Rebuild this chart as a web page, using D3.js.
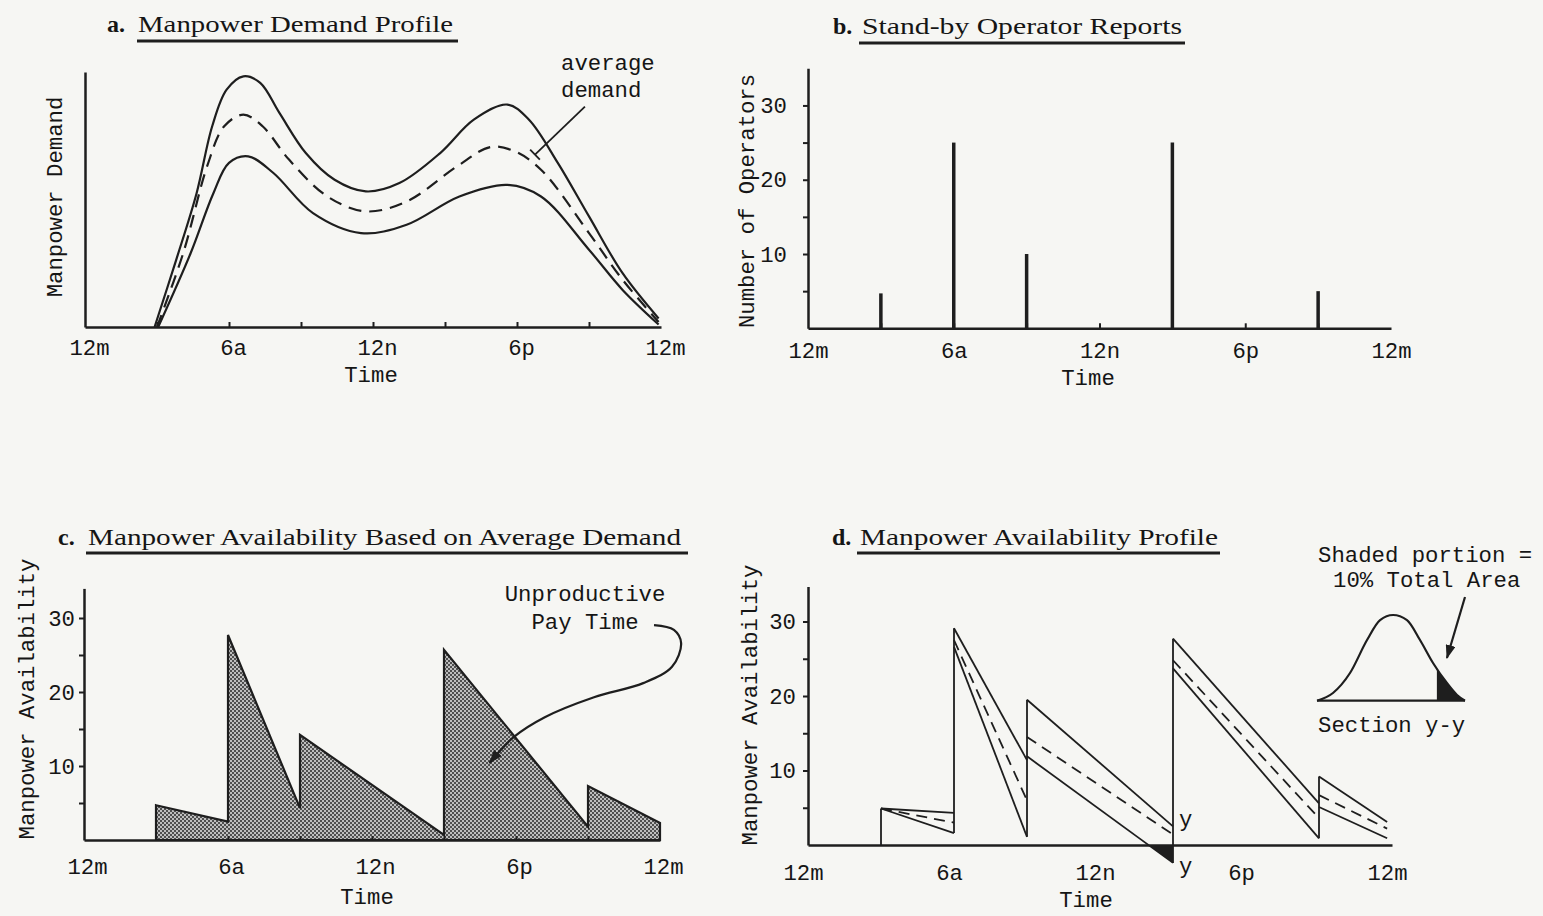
<!DOCTYPE html>
<html lang="en">
<head>
<meta charset="utf-8">
<title>Manpower demand and availability</title>
<script src="https://d3js.org/d3.v7.min.js"></script>
<style>
  body { margin: 0; background: #f6f6f3; }
  svg { display: block; }
  text { fill: #151515; font-family: "Liberation Mono", "DejaVu Sans Mono", monospace; font-size: 22.3px; }
  .title { font-family: "Liberation Serif", serif; font-size: 24px; }
  .letter { font-family: "Liberation Serif", serif; font-weight: bold; font-size: 24px; }
  .axis path { stroke: #1e1e1e; stroke-width: 2.5px; }
  .axis line { stroke: #1e1e1e; stroke-width: 2px; }
  .ink { fill: none; stroke: #1e1e1e; stroke-width: 2.2px; }
  .thin { fill: none; stroke: #1e1e1e; stroke-width: 1.8px; }
</style>
</head>
<body>
<script>
// time axis shared by all four panels (hours after midnight)
var hourTicks = [0, 3, 6, 9, 12, 15, 18, 21, 24];
var hourNames = ["12m", "", "6a", "", "12n", "", "6p", "", "12m"];
var countTicks = [5, 10, 15, 20, 25, 30];

// a. manpower demand profile (no units on the axis, 0-100 scale)
var highHours  = [2.9, 3.8, 4.65, 5.3, 5.9, 6.6, 7.3, 8.1, 9.2, 10.4, 11.7, 13.1, 14.8, 16.2, 17.6, 18.5, 19.7, 21.0, 22.4, 23.9];
var highDemand = [0, 26.6, 53, 79.5, 94, 99.3, 96.7, 84.8, 68.9, 58.3, 53.7, 57, 68.9, 82.1, 88.1, 82.1, 65, 43.8, 21.3, 3.4];
var avgHours   = [3.0, 4.1, 5.1, 5.8, 6.6, 7.4, 8.5, 10.1, 11.7, 13.4, 15.5, 16.9, 17.9, 19.0, 21.0, 22.4, 23.9];
var avgDemand  = [0, 29.5, 64, 79.5, 84.1, 79.5, 66.3, 51.7, 45.8, 49.7, 63.6, 71.3, 69.6, 62.3, 37.2, 18.7, 2];
var lowHours   = [3.05, 4.4, 5.35, 6.0, 6.8, 7.85, 9.5, 11.5, 13.4, 15.6, 17.6, 19.0, 21.0, 22.4, 23.9];
var lowDemand  = [0, 29.2, 53, 65, 67.6, 61, 45.1, 37.2, 40.5, 51.7, 56.3, 51.7, 30.6, 14.7, 1];

// b. stand-by operator reports
var reportHours  = [3, 6, 9, 15, 21];
var reportCounts = [4.7, 25, 10, 25, 5];

// c. availability based on average demand
var flatHours = [3, 6, 6, 9, 9, 15, 15, 21, 21, 24];
var flatStaff = [4.7, 2.5, 27.7, 4.3, 14.2, 0.7, 25.7, 1.8, 7.3, 2.3];

// d. availability profile, one entry per report
var toothStart = [3, 6, 9, 15, 21];
var toothEnd   = [6, 9, 15, 21, 23.8];
var highStart  = [4.9, 29.1, 19.5, 27.7, 9.2];
var highEnd    = [4.3, 11.4, 2.5, 5.6, 3.1];
var meanStart  = [4.9, 27.5, 14.5, 24.8, 6.7];
var meanEnd    = [3.0, 6.0, 1.4, 3.6, 2.2];
var lowStart   = [4.9, 26.6, 11.9, 23.7, 5.1];
var lowEnd     = [1.6, 1.1, -2.4, 0.9, 0.9];

// section y-y inset (position across section 0-100, height 0-100)
var bellPos    = [0, 10.8, 22.3, 33.8, 42.6, 51.4, 60.8, 69.6, 78.4, 87.8, 94.6, 100];
var bellHeight = [0, 9, 32.3, 70.8, 94.1, 100, 94.1, 70.8, 44, 20.6, 6.7, 0];
var tailFrom = 81;

var svg = d3.select("body").append("svg").attr("width", 1543).attr("height", 916);
svg.append("rect").attr("width", 1543).attr("height", 916).attr("fill", "#f6f6f3");

var defs = svg.append("defs");
var pat = defs.append("pattern").attr("id", "stipple")
	.attr("width", 4).attr("height", 4).attr("patternUnits", "userSpaceOnUse");
pat.append("rect").attr("width", 4).attr("height", 4).attr("fill", "#bebebe");
pat.append("circle").attr("cx", 1).attr("cy", 1).attr("r", 1).attr("fill", "#2a2a2a");
pat.append("circle").attr("cx", 3).attr("cy", 3).attr("r", 1).attr("fill", "#2a2a2a");

defs.append("marker").attr("id", "head")
	.attr("viewBox", "0 0 14 10").attr("refX", 13).attr("refY", 5)
	.attr("markerWidth", 14).attr("markerHeight", 10)
	.attr("markerUnits", "userSpaceOnUse").attr("orient", "auto")
	.append("path").attr("d", "M0,0L14,5L0,10z").attr("fill", "#1e1e1e");

var hourAxis = function(scale, size, pad) {
	return d3.axisBottom(scale).tickValues(hourTicks)
		.tickFormat(function(d, i) { return hourNames[i]; })
		.tickSizeInner(size).tickSizeOuter(0).tickPadding(pad);
};
var countAxis = function(scale, pad) {
	return d3.axisLeft(scale).tickValues(countTicks)
		.tickFormat(function(d) { return d % 10 === 0 ? d : ""; })
		.tickSizeInner(5).tickSizeOuter(0).tickPadding(pad);
};
var dropEnds = function(g) {
	g.selectAll(".tick line").filter(function(d) { return d === 0 || d === 24; }).remove();
};

var title = function(letter, name, lx, tx, base, len, u1, u2, uy) {
	svg.append("text").attr("class", "letter").attr("x", lx).attr("y", base).text(letter);
	svg.append("text").attr("class", "title").attr("x", tx).attr("y", base)
		.attr("textLength", len).attr("lengthAdjust", "spacingAndGlyphs").text(name);
	svg.append("line").attr("x1", u1).attr("x2", u2).attr("y1", uy).attr("y2", uy)
		.attr("stroke", "#1e1e1e").attr("stroke-width", 3);
};
var sideLabel = function(name, cx, cy) {
	svg.append("text").attr("transform", "translate(" + cx + "," + cy + ") rotate(-90)")
		.attr("text-anchor", "middle").attr("dominant-baseline", "central").text(name);
};
var timeLabel = function(cx, base) {
	svg.append("text").attr("x", cx).attr("y", base).attr("text-anchor", "middle").text("Time");
};

// ---------- a. Manpower Demand Profile ----------
var xA = d3.scaleLinear().domain([0, 24]).range([85, 661]);
var yA = d3.scaleLinear().domain([0, 101]).range([327, 72]);

svg.append("g").attr("class", "axis").attr("transform", "translate(0," + yA(0) + ")")
	.call(hourAxis(xA, -5, 12)).call(dropEnds)
	.selectAll("text").attr("dx", 4);
svg.append("g").attr("class", "axis").attr("transform", "translate(" + xA(0) + ",0)")
	.call(d3.axisLeft(yA).tickValues([]).tickSizeOuter(0));

var demandLine = function(hours, vals) {
	return d3.line()
		.x(function(d) { return xA(d); })
		.y(function(d, i) { return yA(vals[i]); })
		.curve(d3.curveCatmullRom.alpha(0.5))(hours);
};
svg.append("path").attr("class", "ink").attr("d", demandLine(highHours, highDemand));
svg.append("path").attr("class", "ink").attr("d", demandLine(lowHours, lowDemand));
svg.append("path").attr("class", "ink").attr("stroke-dasharray", "13,8")
	.attr("d", demandLine(avgHours, avgDemand));

// leader for "average demand"
var la = [xA(20.83), yA(87.3)], lb = [xA(18.75), yA(68.3)];
svg.append("line").attr("class", "thin").attr("x1", la[0]).attr("y1", la[1]).attr("x2", lb[0]).attr("y2", lb[1]);
var len = Math.hypot(la[0] - lb[0], la[1] - lb[1]);
var px = (la[1] - lb[1]) / len * 7, py = -(la[0] - lb[0]) / len * 7;
svg.append("line").attr("class", "thin").attr("stroke-width", 2.5)
	.attr("x1", lb[0] - px).attr("y1", lb[1] - py).attr("x2", lb[0] + px).attr("y2", lb[1] + py);
svg.append("text").attr("x", 561).attr("y", 70).text("average");
svg.append("text").attr("x", 561).attr("y", 97).text("demand");

title("a.", "Manpower Demand Profile", 107, 138, 32, 315, 137, 458, 41);
sideLabel("Manpower Demand", 56, 197);
timeLabel(371, 382);

// ---------- b. Stand-by Operator Reports ----------
var xB = d3.scaleLinear().domain([0, 24]).range([808, 1391]);
var yB = d3.scaleLinear().domain([0, 35]).range([328.3, 68.3]);

svg.append("g").attr("class", "axis").attr("transform", "translate(0," + yB(0) + ")")
	.call(hourAxis(xB, -5, 14)).call(dropEnds);
svg.append("g").attr("class", "axis").attr("transform", "translate(" + xB(0) + ",0)")
	.call(countAxis(yB, 16));

svg.selectAll(".spike").data(reportHours).enter().append("line")
	.attr("class", "spike")
	.attr("x1", function(d) { return xB(d); })
	.attr("x2", function(d) { return xB(d); })
	.attr("y1", yB(0))
	.attr("y2", function(d, i) { return yB(reportCounts[i]); })
	.attr("stroke", "#1e1e1e").attr("stroke-width", 3.5);

title("b.", "Stand-by Operator Reports", 833, 862, 34, 320, 859, 1185, 43);
sideLabel("Number of Operators", 748, 201);
timeLabel(1088, 385);

// ---------- c. Manpower Availability Based on Average Demand ----------
var xC = d3.scaleLinear().domain([0, 24]).range([84, 660]);
var yC = d3.scaleLinear().domain([0, 34]).range([840, 588.4]);

var flatArea = d3.area()
	.x(function(d) { return xC(d); })
	.y0(yC(0))
	.y1(function(d, i) { return yC(flatStaff[i]); })
	.curve(d3.curveLinear);
svg.append("path").attr("d", flatArea(flatHours))
	.attr("fill", "url(#stipple)").attr("stroke", "#1e1e1e").attr("stroke-width", 2.2);

svg.append("g").attr("class", "axis").attr("transform", "translate(0," + yC(0) + ")")
	.call(hourAxis(xC, -4, 18)).call(dropEnds)
	.selectAll("text").attr("dx", 3);
svg.append("g").attr("class", "axis").attr("transform", "translate(" + xC(0) + ",0)")
	.call(countAxis(yC, 4));

// curved pointer to the shaded area
var payHours = [23.75, 24.58, 24.88, 24.5, 23.3, 21.25, 19.2, 17.9, 16.9];
var payStaff = [29.05, 28.4, 26.6, 23.4, 21.2, 19.3, 16.6, 13.9, 10.4];
svg.append("path").attr("class", "ink").attr("stroke-width", 2.6)
	.attr("marker-end", "url(#head)")
	.attr("d", d3.line()
		.x(function(d) { return xC(d); })
		.y(function(d, i) { return yC(payStaff[i]); })
		.curve(d3.curveCatmullRom)(payHours));
svg.append("text").attr("x", 585).attr("y", 601).attr("text-anchor", "middle").text("Unproductive");
svg.append("text").attr("x", 585).attr("y", 629).attr("text-anchor", "middle").text("Pay Time");

title("c.", "Manpower Availability Based on Average Demand", 58, 88, 545, 593, 86, 688, 553);
sideLabel("Manpower Availability", 28, 699);
timeLabel(367, 904);

// ---------- d. Manpower Availability Profile ----------
var xD = d3.scaleLinear().domain([0, 24]).range([808, 1392]);
var yD = d3.scaleLinear().domain([0, 34.7]).range([845, 586.5]);

svg.append("g").attr("class", "axis").attr("transform", "translate(0," + yD(0) + ")")
	.call(hourAxis(xD, 0, 19))
	.selectAll("text").attr("dx", -5);
svg.append("g").attr("class", "axis").attr("transform", "translate(" + xD(0) + ",0)")
	.call(countAxis(yD, 7));

var seg = function(t0, v0, t1, v1) {
	return "M" + xD(t0) + "," + yD(v0) + "L" + xD(t1) + "," + yD(v1);
};
var dPlot = svg.append("g");
toothStart.forEach(function(t0, i) {
	var t1 = toothEnd[i];
	var base = i === 0 ? 0 : lowEnd[i - 1];
	dPlot.append("path").attr("class", "thin").attr("d", seg(t0, base, t0, highStart[i]));
	dPlot.append("path").attr("class", "thin").attr("d", seg(t0, highStart[i], t1, highEnd[i]));
	dPlot.append("path").attr("class", "thin").attr("d", seg(t0, lowStart[i], t1, lowEnd[i]));
	dPlot.append("path").attr("class", "thin").attr("stroke-dasharray", "11,7")
		.attr("d", seg(t0, meanStart[i], t1, meanEnd[i]));
	if (lowEnd[i] < 0) {
		// part of the low band that falls below zero
		var tc = t0 + (t1 - t0) * lowStart[i] / (lowStart[i] - lowEnd[i]);
		dPlot.append("path").attr("fill", "#1e1e1e")
			.attr("d", "M" + xD(tc) + "," + yD(0) + "L" + xD(t1) + "," + yD(0) +
				"L" + xD(t1) + "," + yD(lowEnd[i]) + "Z");
	}
});
svg.append("text").attr("x", 1179).attr("y", 826).text("y");
svg.append("text").attr("x", 1179).attr("y", 873).text("y");

// inset: section y-y
var xS = d3.scaleLinear().domain([0, 100]).range([1317, 1465]);
var yS = d3.scaleLinear().domain([0, 100]).range([700.7, 615]);
var bell = d3.area()
	.x(function(d) { return xS(d); })
	.y0(yS(0))
	.y1(function(d, i) { return yS(bellHeight[i]); })
	.curve(d3.curveMonotoneX);
defs.append("clipPath").attr("id", "tail").append("rect")
	.attr("x", xS(tailFrom)).attr("y", yS(110)).attr("width", xS(100) - xS(tailFrom) + 2).attr("height", yS(0) - yS(110) + 2);
svg.append("path").attr("d", bell(bellPos)).attr("fill", "#1e1e1e").attr("clip-path", "url(#tail)");
svg.append("path").attr("class", "ink").attr("d", d3.line()
	.x(function(d) { return xS(d); })
	.y(function(d, i) { return yS(bellHeight[i]); })
	.curve(d3.curveMonotoneX)(bellPos));
svg.append("line").attr("class", "ink").attr("x1", xS(0)).attr("x2", xS(100)).attr("y1", yS(0)).attr("y2", yS(0));
svg.append("line").attr("class", "ink").attr("marker-end", "url(#head)")
	.attr("x1", xS(100)).attr("y1", yS(121)).attr("x2", xS(87.8)).attr("y2", yS(49.8));
svg.append("text").attr("x", 1318).attr("y", 562).text("Shaded portion =");
svg.append("text").attr("x", 1333).attr("y", 587).text("10% Total Area");
svg.append("text").attr("x", 1318).attr("y", 732).text("Section y-y");

title("d.", "Manpower Availability Profile", 832, 860, 545, 358, 857, 1220, 553);
sideLabel("Manpower Availability", 751, 705);
timeLabel(1086, 907);
</script>
</body>
</html>
